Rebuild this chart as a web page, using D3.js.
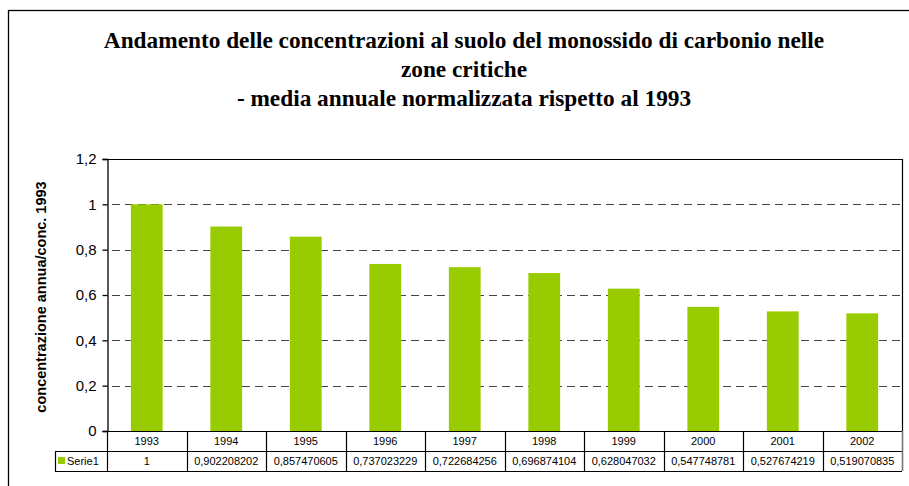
<!DOCTYPE html>
<html>
<head>
<meta charset="utf-8">
<script src="https://cdn.jsdelivr.net/npm/d3@7"></script>
<style>
  body { margin: 0; background: #fff; }
</style>
</head>
<body>
<svg id="chart" width="909" height="486"></svg>
<script>
var years = ['1993', '1994', '1995', '1996', '1997', '1998', '1999', '2000', '2001', '2002'];
var values = [1, 0.902208202, 0.857470605, 0.737023229, 0.722684256, 0.696874104, 0.628047032, 0.547748781, 0.527674219, 0.519070835];
var valueLabels = ['1', '0,902208202', '0,857470605', '0,737023229', '0,722684256', '0,696874104', '0,628047032', '0,547748781', '0,527674219', '0,519070835'];
var yTicks = [0, 0.2, 0.4, 0.6, 0.8, 1, 1.2];
var seriesName = 'Serie1';
var titleLines = ['Andamento delle concentrazioni al suolo del monossido di carbonio nelle', 'zone critiche', '- media annuale normalizzata rispetto al 1993'];
var yLabel = 'concentrazione annua/conc. 1993';

var green = '#99CC00';

function add_title(svg){
  svg.append('g').selectAll('text')
  .data(titleLines)
  .enter()
  .append('text')
  .attr('x', 464)
  .attr('y', function(d, i) { return 48 + i * 29; })
  .attr('text-anchor', 'middle')
  .style('font-family', '"Liberation Serif", "Times New Roman", serif')
  .style('font-weight', 'bold')
  .style('font-size', '23.3px')
  .text(function(d) { return d; });
}

function bar_chart(name){
  var svg = d3.select(name);
  var left = 107, right = 902, top = 159, bottom = 431;

  // outer frame of the chart
  svg.append('rect')
  .attr('x', 8.5).attr('y', 10.5)
  .attr('width', 940).attr('height', 520)
  .style('fill', 'none')
  .style('stroke', '#000')
  .style('stroke-width', 1.3);

  add_title(svg);

  var xScale = d3.scaleBand().domain(years).range([left, right]).paddingInner(0.6).paddingOuter(0.3);
  var colScale = d3.scaleBand().domain(years).range([left, right]);
  var yScale = d3.scaleLinear().domain([0, 1.2]).range([bottom, top]);

  // dashed gridlines
  svg.append('g')
  .selectAll('line')
  .data(yTicks.filter(function(d) { return d > 0 && d < 1.2; }))
  .enter()
  .append('line')
  .attr('x1', left + 5).attr('x2', right)
  .attr('y1', function(d) { return Math.round(yScale(d)) + 0.5; })
  .attr('y2', function(d) { return Math.round(yScale(d)) + 0.5; })
  .style('stroke', '#444')
  .style('stroke-width', 1)
  .style('stroke-dasharray', '8,5');

  // bars
  svg.append('g')
  .selectAll('rect')
  .data(values)
  .enter()
  .append('rect')
  .attr('x', function(d, i) { return xScale(years[i]); })
  .attr('y', function(d) { return yScale(d); })
  .attr('width', xScale.bandwidth())
  .attr('height', function(d) { return bottom - yScale(d); })
  .style('fill', green);

  // plot frame: top and right
  svg.append('path')
  .attr('d', 'M' + left + ',' + (top + 0.5) + 'H' + (right + 0.5) + 'V' + bottom)
  .style('fill', 'none')
  .style('stroke', '#000')
  .style('stroke-width', 1.2);

  // y axis
  var yAxis = svg.append('g')
  .attr('transform', 'translate(' + (left + 0.5) + ',0)')
  .call(d3.axisLeft(yScale).tickValues(yTicks).tickSize(5).tickPadding(6)
    .tickFormat(function(d) { return d3.format('~g')(d).replace('.', ','); }));
  yAxis.selectAll('text')
  .style('font-family', 'Arial, "Liberation Sans", sans-serif')
  .style('font-size', '15px')
  .style('fill', '#000');
  yAxis.selectAll('line, path').style('stroke', '#000').style('stroke-width', 1.3);

  svg.append('text')
  .attr('transform', 'translate(46,' + ((top + bottom) / 2 + 2) + ') rotate(-90)')
  .attr('text-anchor', 'middle')
  .style('font-family', 'Arial, "Liberation Sans", sans-serif')
  .style('font-weight', 'bold')
  .style('font-size', '14.5px')
  .text(yLabel);

  // data table under the chart
  var row1 = bottom, row2 = 451, row3 = 471;
  var table = svg.append('g')
  .style('stroke', '#000')
  .style('stroke-width', 1.2);
  table.append('line').attr('x1', left).attr('x2', right).attr('y1', row1 + 0.5).attr('y2', row1 + 0.5);
  table.append('line').attr('x1', 55).attr('x2', right).attr('y1', row2 + 0.5).attr('y2', row2 + 0.5);
  table.append('line').attr('x1', 55).attr('x2', right).attr('y1', row3 + 0.5).attr('y2', row3 + 0.5);
  table.append('line').attr('x1', 55.5).attr('x2', 55.5).attr('y1', row2).attr('y2', row3);
  table.selectAll('.col')
  .data(years)
  .enter()
  .append('line')
  .attr('class', 'col')
  .attr('x1', function(d) { return Math.round(colScale(d)) + 0.5; })
  .attr('x2', function(d) { return Math.round(colScale(d)) + 0.5; })
  .attr('y1', row1).attr('y2', row3);
  table.append('line').attr('x1', right + 0.5).attr('x2', right + 0.5).attr('y1', row1).attr('y2', row3)
  .style('stroke', '#777').style('stroke-width', 1.6);

  svg.append('g').selectAll('text')
  .data(years)
  .enter()
  .append('text')
  .attr('x', function(d) { return colScale(d) + colScale.bandwidth() / 2; })
  .attr('y', row1 + 14)
  .attr('text-anchor', 'middle')
  .style('font-family', 'Arial, "Liberation Sans", sans-serif')
  .style('font-size', '11px')
  .text(function(d) { return d; });

  svg.append('g').selectAll('text')
  .data(valueLabels)
  .enter()
  .append('text')
  .attr('x', function(d, i) { return colScale(years[i]) + colScale.bandwidth() / 2; })
  .attr('y', row2 + 14)
  .attr('text-anchor', 'middle')
  .style('font-family', 'Arial, "Liberation Sans", sans-serif')
  .style('font-size', '11px')
  .text(function(d) { return d; });

  // legend key in the table
  svg.append('rect')
  .attr('x', 58).attr('y', row2 + 6)
  .attr('width', 7).attr('height', 7)
  .style('fill', green);
  svg.append('text')
  .attr('x', 67).attr('y', row2 + 14)
  .style('font-family', 'Arial, "Liberation Sans", sans-serif')
  .style('font-size', '11px')
  .text(seriesName);
}

bar_chart('#chart');
</script>
</body>
</html>
